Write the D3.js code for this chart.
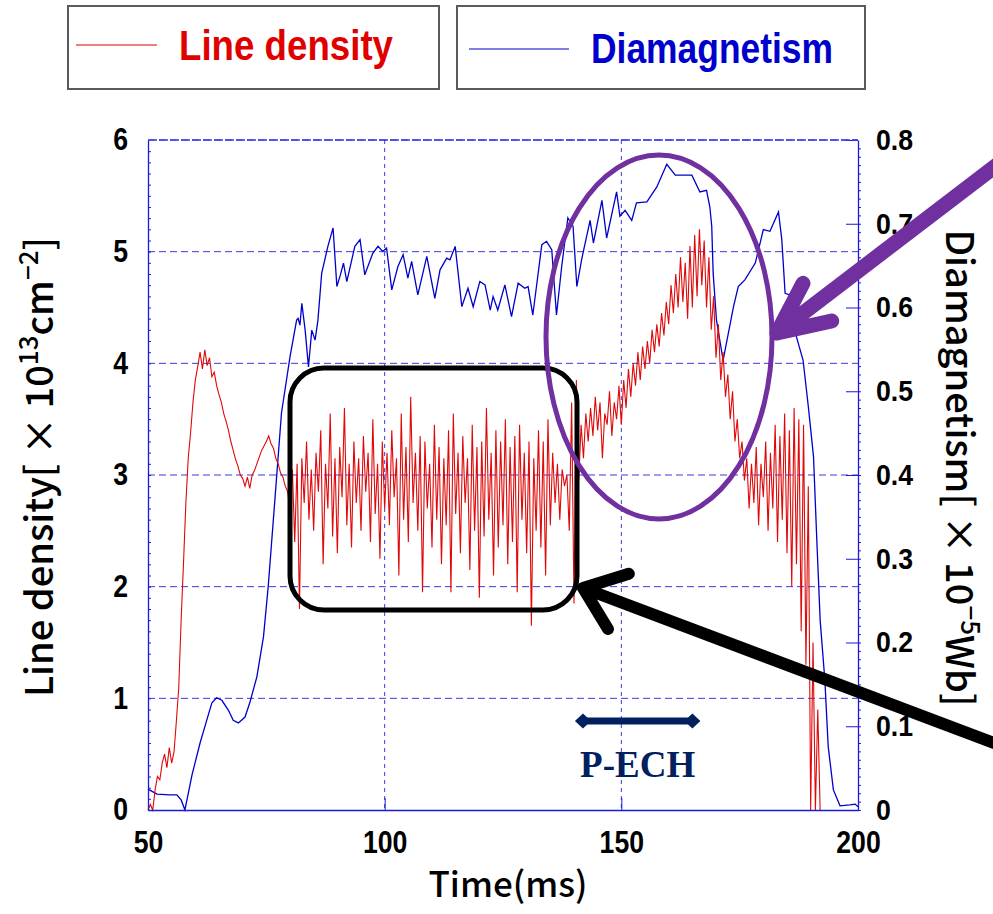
<!DOCTYPE html>
<html>
<head>
<meta charset="utf-8">
<script src="https://cdn.jsdelivr.net/npm/d3@7"></script>
<style>
  body { margin: 0; background: #fff; }
  svg { display: block; }
  .tick text { font-family: "Liberation Sans Narrow", "Arial Narrow", "Liberation Sans", sans-serif; font-weight: bold; fill: #000; }
</style>
</head>
<body>
<svg id="chart" width="993" height="914"></svg>
<script>
// ---- data ----
// diamagnetism (x1e-5 Wb) vs time (ms)
const blueT = [50, 51.9, 54.6, 56.1, 57, 57.8, 59.3, 61, 62.4, 63.5, 64.5, 65.6, 67, 68, 69.1, 70.5, 71.5, 73, 74.4, 75.4, 76.8, 78.2,
  80, 81.4, 81.7, 82.1, 82.5, 83.2, 83.9, 84.6, 85.3, 85.9, 86.7, 88, 89.1, 89.9, 90.6, 91.3, 92, 93.7, 94.8, 95.8, 97.5, 98.6, 99.6,
  100.4, 101.5, 102.8, 103.9, 104.9, 105.7, 107, 108.9, 110.6, 111.7, 113.1, 113.8, 114.9, 116.3, 117.6, 118.7, 120.1, 121.2, 122.3,
  122.9, 123.9, 125.4, 126.8, 128.2, 129.6, 130.3, 131.3, 133.2, 134.2, 135.3, 136.3, 137.4, 138.7, 139.8, 140.6, 141.6, 143.4, 144.1,
  145.9, 146.9, 149, 149.7, 150.8, 152.2, 153.2, 155.4, 157.5, 159.6, 161.4, 164.9, 166.6, 168, 168.7, 169.1, 169.4, 170.1, 171.5,
  173.7, 174.7, 176.1, 178.3, 180, 181.4, 183.2, 183.9, 184.6, 185.6, 187, 188.4, 189.5, 190.6, 191.3, 192, 193, 193.7, 194.8, 196.2,
  198.3, 199.4, 200];
const blueV = [0.025, 0.019, 0.018, 0.018, 0.012, 0, 0.042, 0.080, 0.107, 0.128, 0.134, 0.131, 0.119, 0.107, 0.104, 0.111, 0.128, 0.159, 0.207, 0.267, 0.370, 0.474,
  0.541, 0.585, 0.587, 0.579, 0.605, 0.573, 0.529, 0.573, 0.561, 0.585, 0.641, 0.673, 0.695, 0.625, 0.638, 0.653, 0.631, 0.673, 0.681, 0.639, 0.665, 0.673, 0.667,
  0.671, 0.621, 0.649, 0.663, 0.635, 0.655, 0.615, 0.661, 0.611, 0.645, 0.659, 0.657, 0.673, 0.601, 0.623, 0.601, 0.631, 0.627, 0.597,
  0.613, 0.597, 0.627, 0.589, 0.629, 0.623, 0.625, 0.591, 0.675, 0.679, 0.669, 0.591, 0.649, 0.707, 0.697, 0.625, 0.657, 0.704, 0.677,
  0.728, 0.683, 0.738, 0.709, 0.716, 0.704, 0.725, 0.726, 0.744, 0.771, 0.758, 0.758, 0.738, 0.740, 0.720, 0.697, 0.641, 0.585, 0.537,
  0.601, 0.625, 0.633, 0.653, 0.693, 0.691, 0.714, 0.681, 0.617, 0.615, 0.565, 0.537, 0.482, 0.422, 0.322, 0.227, 0.155, 0.076, 0.024, 0.005,
  0.006, 0.007, 0.004];

// line density (x1e13 cm^-2), sampled every 0.5 ms
const redStep = 0.5;
const redA0 = 50;   // 50 - 79.5 ms
const redA = [
  0.00, 0.05, 0.00, 0.18, 0.30, 0.27, 0.42, 0.50, 0.38, 0.56,
  0.42, 0.52, 0.80, 1.10, 1.70, 2.21, 2.75, 3.15, 3.38, 3.65,
  3.85, 3.97, 4.10, 3.95, 4.12, 3.98, 4.05, 3.88, 3.92, 3.80,
  3.72, 3.65, 3.55, 3.48, 3.40, 3.30, 3.22, 3.14, 3.08, 3.00,
  2.97, 2.90, 2.98, 2.88, 3.00, 3.04, 3.10, 3.16, 3.22, 3.26,
  3.30, 3.35, 3.28, 3.24, 3.15, 3.10, 3.02, 2.98, 2.90, 2.85];
const redB0 = 80;   // 80 - 139.5 ms
const redB = [
  2.70, 3.05, 2.40, 3.10, 1.80, 3.15, 2.75, 3.30, 2.60, 3.05,
  2.50, 3.20, 2.85, 3.40, 2.20, 3.10, 2.70, 3.55, 2.45, 3.15,
  2.30, 3.25, 2.80, 3.60, 2.55, 3.10, 2.35, 3.30, 2.75, 3.15,
  2.50, 3.35, 2.85, 3.20, 2.40, 3.50, 2.65, 3.10, 2.25, 3.30,
  2.70, 3.20, 2.55, 3.40, 2.80, 3.15, 2.10, 3.55, 2.60, 3.25,
  2.40, 3.70, 2.75, 3.20, 2.50, 3.35, 1.95, 3.30, 2.70, 3.10,
  2.35, 3.45, 2.60, 3.25, 2.20, 3.15, 2.55, 3.40, 1.95, 3.55,
  2.65, 3.20, 2.30, 3.35, 2.75, 3.15, 2.15, 3.45, 2.50, 3.25,
  1.90, 3.30, 2.45, 3.60, 2.60, 3.20, 2.10, 3.40, 2.35, 3.30,
  2.55, 3.50, 2.20, 3.25, 2.40, 3.35, 1.95, 3.45, 2.60, 3.20,
  2.30, 3.30, 1.65, 3.15, 2.50, 3.40, 2.35, 3.30, 2.10, 3.50,
  2.55, 3.20, 2.75, 3.10, 2.60, 3.05, 2.90, 3.00, 2.50, 3.65];
const redC0 = 140;  // 140 - 169.5 ms
const redC = [
  1.85, 3.85, 2.95, 3.45, 3.15, 3.55, 3.30, 3.60, 3.35, 3.70,
  3.40, 3.65, 3.15, 3.55, 3.45, 3.75, 3.35, 3.65, 3.50, 3.80,
  3.45, 3.85, 3.60, 3.95, 3.70, 4.00, 3.80, 4.10, 3.85, 4.15,
  3.95, 4.20, 4.00, 4.30, 4.10, 4.35, 4.15, 4.45, 4.25, 4.55,
  4.35, 4.70, 4.45, 4.80, 4.50, 4.95, 4.55, 4.90, 4.40, 5.05,
  4.50, 5.15, 4.60, 5.20, 4.70, 5.10, 4.50, 4.95, 4.30, 4.60];
const redD0 = 170;  // 170 - 192 ms
const redD = [
  4.05, 4.35, 3.85, 4.10, 3.70, 3.90, 3.50, 3.75, 3.30, 3.50,
  3.15, 3.30, 2.95, 3.15, 2.70, 3.10, 2.75, 3.25, 2.55, 3.10,
  2.80, 3.30, 2.50, 3.20, 2.70, 3.45, 2.40, 3.35, 2.60, 3.55,
  2.30, 3.40, 2.00, 3.60, 2.20, 3.50, 1.60, 3.45, 1.30, 2.90,
  0.00, 1.50, 0.00, 0.90, 0.00];

const xTicks = [50, 100, 150, 200];
const yLeftTicks = [0, 1, 2, 3, 4, 5, 6];
const yRightTicks = [0, 0.1, 0.2, 0.3, 0.4, 0.5, 0.6, 0.7, 0.8];
const pech = [140.2, 166.7];   // P-ECH pulse window (ms)

// ---- layout ----
const svg = d3.select("#chart");
const plotL = 148, plotR = 858, plotT = 140, plotB = 810;
const gridColor = "#3a3ae0";
const squeeze = 0.86;   // narrow tick digits

const x = d3.scaleLinear().domain([50, 200]).range([plotL, plotR]);
const yL = d3.scaleLinear().domain([0, 6]).range([plotB, plotT]);
const yR = d3.scaleLinear().domain([0, 0.8]).range([plotB, plotT]);

function seg(t0, vals) {
  return vals.map((v, i) => ({ t: t0 + i * redStep, v: v }));
}
const redData = [].concat(seg(redA0, redA), seg(redB0, redB), seg(redC0, redC), seg(redD0, redD));
const blueData = blueT.map((t, i) => ({ t: t, v: blueV[i] }));

// grid
svg.append("g").selectAll("line").data(yLeftTicks.slice(1))
  .join("line")
  .attr("x1", plotL).attr("x2", plotR)
  .attr("y1", d => yL(d)).attr("y2", d => yL(d))
  .attr("stroke", gridColor).attr("stroke-width", 1)
  .attr("stroke-dasharray", "7,4");
svg.append("g").selectAll("line").data(xTicks.slice(1, 3))
  .join("line")
  .attr("x1", d => x(d)).attr("x2", d => x(d))
  .attr("y1", plotT).attr("y2", plotB)
  .attr("stroke", gridColor).attr("stroke-width", 1)
  .attr("stroke-dasharray", "4,4");

// series
svg.append("path").datum(blueData)
  .attr("fill", "none").attr("stroke", "#0000cc").attr("stroke-width", 1.3)
  .attr("d", d3.line().x(d => x(d.t)).y(d => yR(d.v)));

svg.append("path").datum(redData)
  .attr("fill", "none").attr("stroke", "#e00808").attr("stroke-width", 1.1)
  .attr("d", d3.line().x(d => x(d.t)).y(d => yL(d.v)));

// axes
const axL = svg.append("g").attr("transform", `translate(${plotL},0)`)
  .call(d3.axisLeft(yL).tickValues(yLeftTicks).tickSize(0).tickPadding(20).tickFormat(d3.format("d")));
const axR = svg.append("g").attr("transform", `translate(${plotR},0)`)
  .call(d3.axisRight(yR).tickValues(yRightTicks).tickSizeInner(-12).tickSizeOuter(0).tickPadding(18)
    .tickFormat(d => d === 0 ? "0" : d3.format(".1f")(d)));
const axB = svg.append("g").attr("transform", `translate(0,${plotB})`)
  .call(d3.axisBottom(x).tickValues(xTicks).tickSizeInner(-12).tickSizeOuter(0).tickPadding(21).tickFormat(d3.format("d")));

// minor ticks
svg.append("g").attr("transform", `translate(${plotL},0)`)
  .call(d3.axisRight(yL).tickValues(d3.range(0, 60).map(i => i / 10)).tickSize(3).tickFormat(""))
  .call(g => g.select(".domain").remove());
svg.append("g").attr("transform", `translate(${plotR},0)`)
  .call(d3.axisRight(yR).tickValues(d3.range(0, 80).map(i => i / 100)).tickSize(3).tickFormat(""))
  .call(g => g.select(".domain").remove());

[axL, axR, axB].forEach(g => {
  g.select(".domain").attr("stroke", "#1a1ad8").attr("stroke-width", 1.3);
  g.selectAll("text").attr("font-size", 31)
    .attr("x", function() { return (+d3.select(this).attr("x") || 0) / squeeze; })
    .attr("transform", `scale(${squeeze},1)`);
});
svg.selectAll(".tick line").attr("stroke", "#1a1ad8");
axR.selectAll("text").attr("font-size", 29)
  .attr("x", 18 / 0.92).attr("transform", "scale(0.92,1)");
svg.append("line").attr("x1", plotL).attr("x2", plotR).attr("y1", plotT).attr("y2", plotT)
  .attr("stroke", gridColor).attr("stroke-width", 1.3).attr("stroke-dasharray", "9,2");

// axis titles
const titleFont = "'Noto Sans CJK JP', 'Noto Sans', sans-serif";
svg.append("text").attr("x", 508).attr("y", 897).attr("text-anchor", "middle")
  .attr("font-family", titleFont).attr("font-size", 35).attr("font-weight", 500)
  .text("Time(ms)");

const lt = svg.append("text").attr("transform", "translate(53,467) rotate(-90)")
  .attr("text-anchor", "middle").attr("font-family", titleFont).attr("font-size", 38).attr("font-weight", 500);
lt.append("tspan").text("Line density[ × 10");
lt.append("tspan").attr("dy", -15).attr("font-size", 26).text("13");
lt.append("tspan").attr("dy", 15).text("cm");
lt.append("tspan").attr("dy", -15).attr("font-size", 26).text("−2");
lt.append("tspan").attr("dy", 15).text("]");

const rt = svg.append("text").attr("transform", "translate(946,468) rotate(90)")
  .attr("text-anchor", "middle").attr("font-family", titleFont).attr("font-size", 38).attr("font-weight", 500);
rt.append("tspan").text("Diamagnetism[ × 10");
rt.append("tspan").attr("dy", -15).attr("font-size", 26).text("−5");
rt.append("tspan").attr("dy", 15).text("Wb]");

// legend
const legendFont = "'Liberation Sans Narrow', 'Arial Narrow', 'Liberation Sans', sans-serif";
const legends = [
  { box: [68, 6, 371, 83], line: [76, 157, 45], label: "Line density", tx: 179, ty: 60, tw: 214, color: "#e00000" },
  { box: [457, 6, 408, 83], line: [469, 569, 49], label: "Diamagnetism", tx: 591, ty: 63, tw: 242, color: "#0000cc" }
];
legends.forEach(l => {
  svg.append("rect").attr("x", l.box[0]).attr("y", l.box[1]).attr("width", l.box[2]).attr("height", l.box[3])
    .attr("fill", "#fff").attr("stroke", "#5a5a5a").attr("stroke-width", 2);
  svg.append("line").attr("x1", l.line[0]).attr("x2", l.line[1]).attr("y1", l.line[2]).attr("y2", l.line[2])
    .attr("stroke", l.color).attr("stroke-width", 1.2);
  svg.append("text").attr("x", l.tx).attr("y", l.ty).attr("font-family", legendFont)
    .attr("font-weight", "bold").attr("font-size", 43).attr("fill", l.color)
    .attr("textLength", l.tw).attr("lengthAdjust", "spacingAndGlyphs").text(l.label);
});

// annotations
svg.append("rect").attr("x", 290).attr("y", 368).attr("width", 287).attr("height", 242)
  .attr("rx", 34).attr("fill", "none").attr("stroke", "#000").attr("stroke-width", 5);
svg.append("ellipse").attr("cx", 659).attr("cy", 337).attr("rx", 113).attr("ry", 182)
  .attr("fill", "none").attr("stroke", "#7030a0").attr("stroke-width", 5);

function arrow(tip, tail, arm, spread, color, width) {
  const a = Math.atan2(tail[1] - tip[1], tail[0] - tip[0]);
  const r = spread * Math.PI / 180;
  const p1 = [tip[0] + arm * Math.cos(a - r), tip[1] + arm * Math.sin(a - r)];
  const p2 = [tip[0] + arm * Math.cos(a + r), tip[1] + arm * Math.sin(a + r)];
  svg.append("path")
    .attr("d", `M${tail[0]},${tail[1]}L${tip[0]},${tip[1]}M${p1[0]},${p1[1]}L${tip[0]},${tip[1]}L${p2[0]},${p2[1]}`)
    .attr("fill", "none").attr("stroke", color).attr("stroke-width", width)
    .attr("stroke-linecap", "round").attr("stroke-linejoin", "round");
}
arrow([777, 333], [1010, 155], 56, 25, "#7030a0", 15);
arrow([583, 588], [1010, 749], 48, 38, "#000", 12);

// P-ECH
const navy = "#002060";
const px0 = x(pech[0]), px1 = x(pech[1]), py = 721;
svg.append("line").attr("x1", px0 + 6).attr("x2", px1 - 6).attr("y1", py).attr("y2", py)
  .attr("stroke", navy).attr("stroke-width", 7);
[[px0, 1], [px1, -1]].forEach(([p, s]) => {
  svg.append("path")
    .attr("d", `M${p},${py}L${p + s * 8},${py - 7.5}L${p + s * 16},${py}L${p + s * 8},${py + 7.5}Z`)
    .attr("fill", navy);
});
svg.append("text").attr("x", (px0 + px1) / 2).attr("y", 777).attr("text-anchor", "middle")
  .attr("font-family", "'Liberation Serif', 'Times New Roman', serif").attr("font-weight", "bold")
  .attr("font-size", 37).attr("fill", navy).text("P-ECH");
</script>
</body>
</html>
